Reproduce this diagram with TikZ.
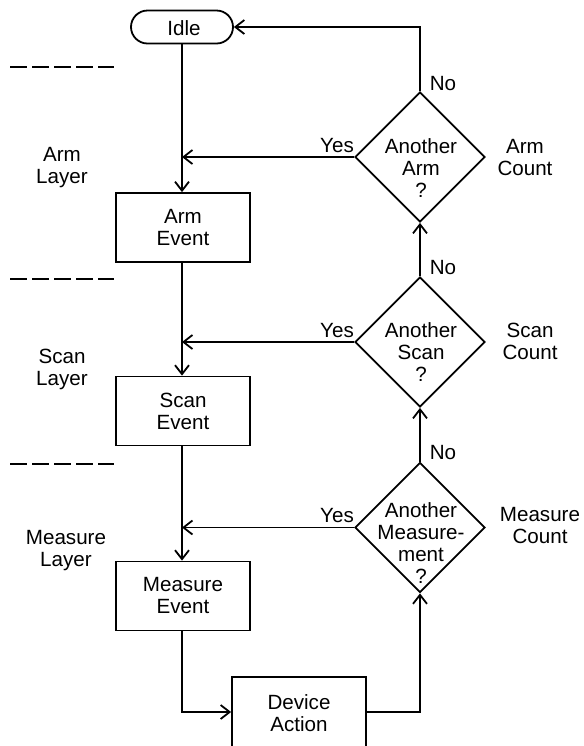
\documentclass[tikz,border=0pt]{standalone}
\usepackage{fontspec}
\setmainfont{Liberation Sans}
\usetikzlibrary{arrows.meta,shapes.geometric}
\begin{document}
\begin{tikzpicture}[x=0.5pt,y=-0.5pt,
 every node/.style={font=\fontsize{10.3}{11}\selectfont, align=center},
 lw/.style={line width=0.9pt},
 evbox/.style={draw,lw,rectangle,minimum width=67pt,minimum height=34.5pt,inner sep=0pt},
 term/.style={draw,lw,rectangle,rounded corners=8.25pt,minimum width=51pt,minimum height=16.5pt,inner sep=0pt},
 dec/.style={draw,lw,diamond,minimum width=65pt,minimum height=65pt,inner sep=0pt},
 arr/.style={lw,-{Straight Barb[length=4.5pt,width=7pt]}},
 sep/.style={lw,dash pattern=on 8.5pt off 2.5pt},
 lbl/.style={inner sep=0pt}]
\useasboundingbox (0,0) rectangle (584,746);
\clip (0,0) rectangle (584,746);

% terminal and event boxes
\node[term] (idle) at (182,27) {};
\node[lbl] (idlet) at (184,28) {Idle};
\node[evbox] (ae) at (183,227.5) {Arm\\Event};
\node[evbox] (se) at (183,411) {Scan\\Event};
\node[evbox] (me) at (183,596) {Measure\\Event};
\node[draw,lw,rectangle,minimum width=67pt,minimum height=35pt,inner sep=0pt] (dev) at (299,712) {};
\node[lbl] (devt) at (299,713) {Device\\Action};

% decisions
\node[dec] (da) at (420,157) {};
\node[dec] (ds) at (420,342) {};
\node[dec] (dm) at (420,527.5) {};
\node[lbl] (dat) at (421,168) {Another\\Arm\\?};
\node[lbl] (dst) at (421,352) {Another\\Scan\\?};
\node[lbl] (dmt) at (421,543.5) {Another\\Measure-\\ment\\?};

% labels
\node[lbl] (noa) at (443,84) {No};
\node[lbl] (nos) at (443,268) {No};
\node[lbl] (nom) at (443,453) {No};
\node[lbl] (yesa) at (337,146) {Yes};
\node[lbl] (yess) at (337,331) {Yes};
\node[lbl] (yesm) at (337,516) {Yes};
\node[lbl] (ca) at (525,157.5) {Arm\\Count};
\node[lbl] (cs) at (530,341.5) {Scan\\Count};
\node[lbl] (cm) at (540,526) {Measure\\Count};
\node[lbl] (la) at (62,168) {Arm\\Layer};
\node[lbl] (ls) at (62,369) {Scan\\Layer};
\node[lbl] (lm) at (66,551) {Measure\\Layer};

% layer separators
\coordinate (s1a) at (10,67);  \coordinate (s1b) at (114,67);
\coordinate (s2a) at (10,279); \coordinate (s2b) at (114,279);
\coordinate (s3a) at (10,464); \coordinate (s3b) at (114,464);
\draw[sep] (s1a) -- (s1b);
\draw[sep] (s2a) -- (s2b);
\draw[sep] (s3a) -- (s3b);

% main flow
\draw[arr] (idle.south) -- (ae.north -| idle.south);
\draw[arr] (ae.south -| idle.south) -- (se.north -| idle.south);
\draw[arr] (se.south -| idle.south) -- (me.north -| idle.south);
\draw[arr] (me.south -| idle.south) |- (dev.west);
\draw[arr] (dev.east) -| (dm.south);
\draw[arr] (dm.north) -- (ds.south);
\draw[arr] (ds.north) -- (da.south);
\draw[arr] (da.north) |- (idle.east);

% yes branches
\draw[arr] (da.west) -- (idle.south |- da.west);
\draw[arr] (ds.west) -- (idle.south |- ds.west);
\draw[arr] (dm.west) -- (idle.south |- dm.west);
\end{tikzpicture}
\end{document}
